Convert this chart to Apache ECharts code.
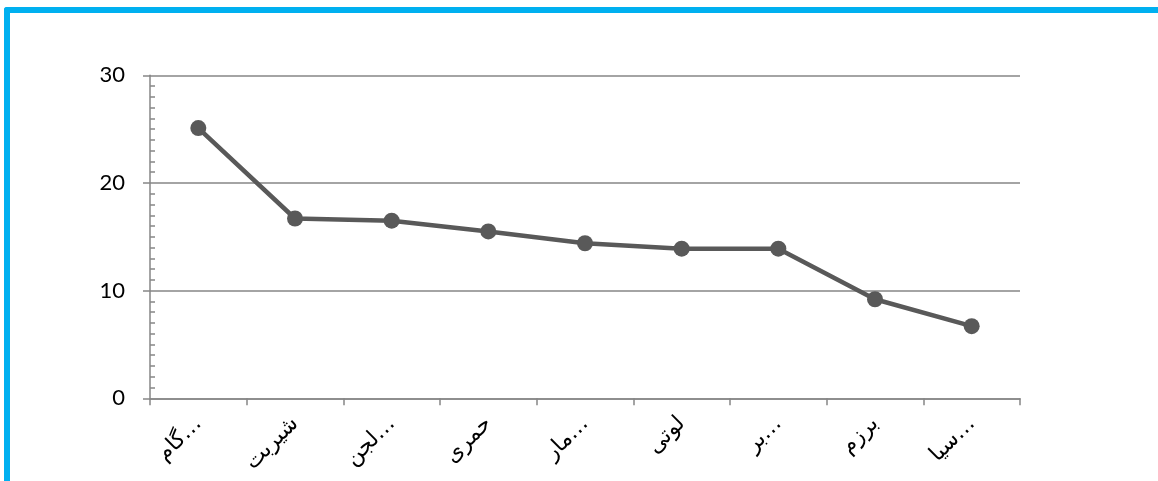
<!DOCTYPE html>
<html>
<head>
<meta charset="utf-8">
<script src="https://cdn.jsdelivr.net/npm/echarts@6/dist/echarts.min.js"></script>
<style>
  html, body { margin: 0; padding: 0; background: #fff; }
  #frame { position: absolute; left: 4px; top: 7px; width: 1154px; height: 474px;
           border-top: 6px solid #00b0f0; border-left: 6px solid #00b0f0;
           border-top-left-radius: 3px; box-sizing: border-box; }
  #chart { position: absolute; left: 0; top: 0; width: 1158px; height: 481px; }
</style>
</head>
<body>
<div id="frame"></div>
<div id="chart"></div>
<script>
const categories = ['گام…', 'شیربت', 'لجن…', 'حمری', 'مار…', 'لوتی', 'بر…', 'برزم', 'سیا…'];
const values = [25.1, 16.7, 16.5, 15.5, 14.4, 13.9, 13.9, 9.2, 6.7];
const yMin = 0, yMax = 30, yStep = 10;

const chart = echarts.init(document.getElementById('chart'), null, { renderer: 'canvas' });
const gray = '#868686';
chart.setOption({
  animation: false,
  grid: { left: 150, right: 138, top: 75.3, bottom: 82.7, containLabel: false },
  xAxis: {
    type: 'category',
    data: categories,
    boundaryGap: true,
    axisLine: { show: true, lineStyle: { color: gray, width: 1.5 } },
    axisTick: { show: true, alignWithLabel: false, length: 7, lineStyle: { color: gray, width: 1.5 } },
    axisLabel: { rotate: 45, margin: 22, fontSize: 22, color: '#000', fontFamily: 'DejaVu Sans', interval: 0 },
    splitLine: { show: false }
  },
  yAxis: [
    {
      type: 'value', min: yMin, max: yMax, interval: yStep,
      axisLine: { show: true, lineStyle: { color: gray, width: 1.5 } },
      axisTick: { show: true, length: 7, lineStyle: { color: gray, width: 1.5 } },
      axisLabel: { fontSize: 22, color: '#000', fontFamily: 'Lato', margin: 25 },
      splitLine: { show: true, lineStyle: { color: gray, width: 1.5 } }
    },
    {
      type: 'value', min: yMin, max: yMax, interval: yStep, position: 'left',
      axisLine: { show: false },
      axisTick: { show: false, inside: true },
      minorTick: { show: true, splitNumber: 10, length: 5, lineStyle: { color: gray, width: 1.5 } },
      axisLabel: { show: false },
      splitLine: { show: false }
    }
  ],
  series: [{
    type: 'line',
    data: values,
    yAxisIndex: 0,
    symbol: 'circle',
    symbolSize: 16,
    lineStyle: { color: '#595959', width: 4.5 },
    itemStyle: { color: '#595959' },
    label: { show: false }
  }]
});
</script>
</body>
</html>
